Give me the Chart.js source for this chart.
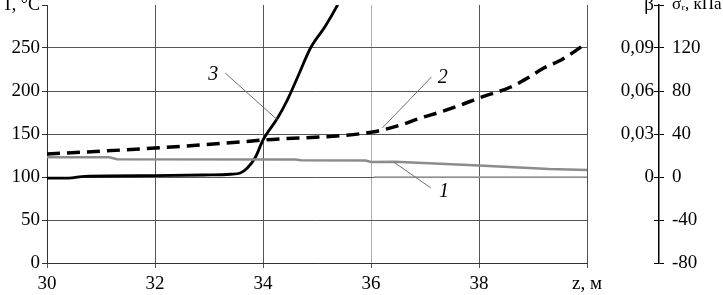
<!DOCTYPE html>
<html>
<head>
<meta charset="utf-8">
<script src="https://cdn.jsdelivr.net/npm/chart.js@4.4.1/dist/chart.umd.min.js"></script>
<style>
  html, body { margin: 0; padding: 0; background: #fff; }
</style>
</head>
<body>
<canvas id="c" width="723" height="295"></canvas>
<script>
// z, м
const Z_TICKS = [30, 32, 34, 36, 38, 40];

// кривая 3: T, °C
const T_Z = [30.0, 30.4, 30.7, 32.0, 32.9, 33.4, 33.58, 33.71, 33.86, 34.0, 34.27, 34.45, 34.64, 34.88, 35.15, 35.38, 35.5];
const T_V = [98.8, 98.8, 100.8, 101.5, 102.3, 103.2, 104.7, 110.5, 123, 143, 168.6, 189.5, 216, 250, 275, 300, 315];

// кривая 2: β
const B_Z = [30.0, 32.0, 33.58, 34.0, 36.03, 36.55, 36.92, 37.29, 37.66, 38.0, 38.59, 38.9, 39.2, 39.52, 40.0];
const B_V = [0.016, 0.0202, 0.0244, 0.0258, 0.0314, 0.0363, 0.0412, 0.0454, 0.0502, 0.0551, 0.0628, 0.069, 0.076, 0.0816, 0.0935];

// кривая 1: σr, кПа
const S_Z = [30.0, 31.15, 31.3, 34.6, 34.7, 35.9, 36.0, 36.45, 38.0, 39.3, 40.0];
const S_V = [18.3, 18.3, 16.5, 16.2, 15.5, 15.4, 13.9, 14.2, 10.7, 7.4, 6.5];

// серая линия по нулю σr
const S0_Z = [36.05, 40.0];
const S0_V = [0, 0];

// выноски (в единицах z и T)
const CALL_TEXT   = ['1', '2', '3'];
const CALL_Z      = [37.35, 37.33, 33.08];
const CALL_T      = [82.6, 215, 218.6];
const CALL_FROM_Z = [36.42, 36.21, 34.27];
const CALL_FROM_T = [117.4, 157, 166.3];
const CALL_TO_Z   = [37.11, 37.12, 33.30];
const CALL_TO_T   = [87.2, 216.3, 220.9];

const SERIF = '"Liberation Serif", "Times New Roman", serif';
const FONT = { family: SERIF, size: 19 };
const GRID = '#555';

const pts = (xs, ys) => xs.map((x, i) => ({ x, y: ys[i] }));

function fixWidth(w) {
  return s => { s.width = w; s.paddingTop = 0; s.paddingBottom = 0; };
}

// подпись у верхнего деления набирается мельче
const topFont = (top, size) => c => (c.tick && c.tick.value === top) ? { family: SERIF, size } : FONT;

const callouts = {
  id: 'callouts',
  afterDatasetsDraw(chart) {
    const { ctx } = chart;
    const x = chart.scales.x, y = chart.scales.y;
    ctx.save();
    ctx.strokeStyle = '#707070';
    ctx.lineWidth = 1;
    ctx.fillStyle = '#000';
    ctx.font = 'italic 20px ' + SERIF;
    ctx.textAlign = 'center';
    ctx.textBaseline = 'middle';
    CALL_TEXT.forEach((t, i) => {
      ctx.beginPath();
      ctx.moveTo(x.getPixelForValue(CALL_FROM_Z[i]), y.getPixelForValue(CALL_FROM_T[i]));
      ctx.lineTo(x.getPixelForValue(CALL_TO_Z[i]), y.getPixelForValue(CALL_TO_T[i]));
      ctx.stroke();
      ctx.fillText(t, x.getPixelForValue(CALL_Z[i]), y.getPixelForValue(CALL_T[i]));
    });
    ctx.restore();
  }
};

new Chart(document.getElementById('c'), {
  type: 'line',
  data: {
    datasets: [
      { data: pts(S0_Z, S0_V), yAxisID: 's', borderColor: '#a0a0a0', borderWidth: 1.5, pointRadius: 0 },
      { data: pts(S_Z, S_V), yAxisID: 's', borderColor: '#8c8c8c', borderWidth: 2.5, pointRadius: 0, tension: 0 },
      { data: pts(B_Z, B_V), yAxisID: 'b', borderColor: '#000', borderWidth: 3.5, borderDash: [13, 7],
        pointRadius: 0, cubicInterpolationMode: 'monotone' },
      { data: pts(T_Z, T_V), yAxisID: 'y', borderColor: '#000', borderWidth: 2.8, pointRadius: 0,
        cubicInterpolationMode: 'monotone' }
    ]
  },
  options: {
    responsive: false,
    animation: false,
    devicePixelRatio: 1,
    layout: { padding: { top: 5, left: 0, right: 0, bottom: 0 } },
    plugins: { legend: { display: false }, tooltip: { enabled: false } },
    scales: {
      x: {
        type: 'linear', position: 'bottom', min: 30, max: 40,
        afterBuildTicks: s => { s.ticks = Z_TICKS.map(v => ({ value: v })); },
        ticks: {
          font: FONT, color: '#000', padding: 5, maxRotation: 0,
          callback: v => v === 40 ? 'z, м' : String(v)
        },
        grid: {
          color: c => (c.tick && c.tick.value === 36) ? '#b0b0b0' : GRID,
          tickLength: 5, tickColor: GRID
        },
        border: { color: '#333' },
        afterFit: s => { s.height = 32; s.paddingLeft = 0; s.paddingRight = 0; }
      },
      y: {
        position: 'left', min: 0, max: 300,
        ticks: {
          stepSize: 50, font: topFont(300, 18), color: '#000', padding: 2,
          callback: v => v === 300 ? 'T, °C' : String(v)
        },
        grid: {
          color: c => (c.tick && c.tick.value === 300) ? 'rgba(0,0,0,0)' : GRID,
          tickLength: 5, tickColor: '#333'
        },
        border: { color: '#333' },
        afterFit: fixWidth(47)
      },
      b: {
        position: 'right', weight: 0, min: -0.06, max: 0.12,
        ticks: {
          stepSize: 0.03, font: FONT, color: '#000', crossAlign: 'far',
          callback: v => {
            const k = Math.round(v * 100);
            if (k === 12) return 'β';
            if (k < 0) return '';
            return k === 0 ? '0' : v.toFixed(2).replace('.', ',');
          }
        },
        grid: { display: false, drawTicks: false },
        border: { display: false },
        afterFit: fixWidth(67)
      },
      tk: {
        position: 'right', weight: 1, min: -80, max: 160,
        ticks: { stepSize: 40, display: false },
        grid: { drawOnChartArea: false, tickLength: 5, tickColor: '#000' },
        border: { display: false },
        afterFit: fixWidth(5)
      },
      s: {
        position: 'right', weight: 2, min: -80, max: 160,
        ticks: {
          stepSize: 40, font: topFont(160, 17), color: '#000', padding: 8, crossAlign: 'near',
          callback: v => v === 160 ? 'σᵣ, кПа' : String(v)
        },
        grid: { drawOnChartArea: false, tickLength: 5, tickColor: '#000' },
        border: { color: '#000', width: 1.5 },
        afterFit: fixWidth(64)
      }
    }
  },
  plugins: [callouts]
});
</script>
</body>
</html>
